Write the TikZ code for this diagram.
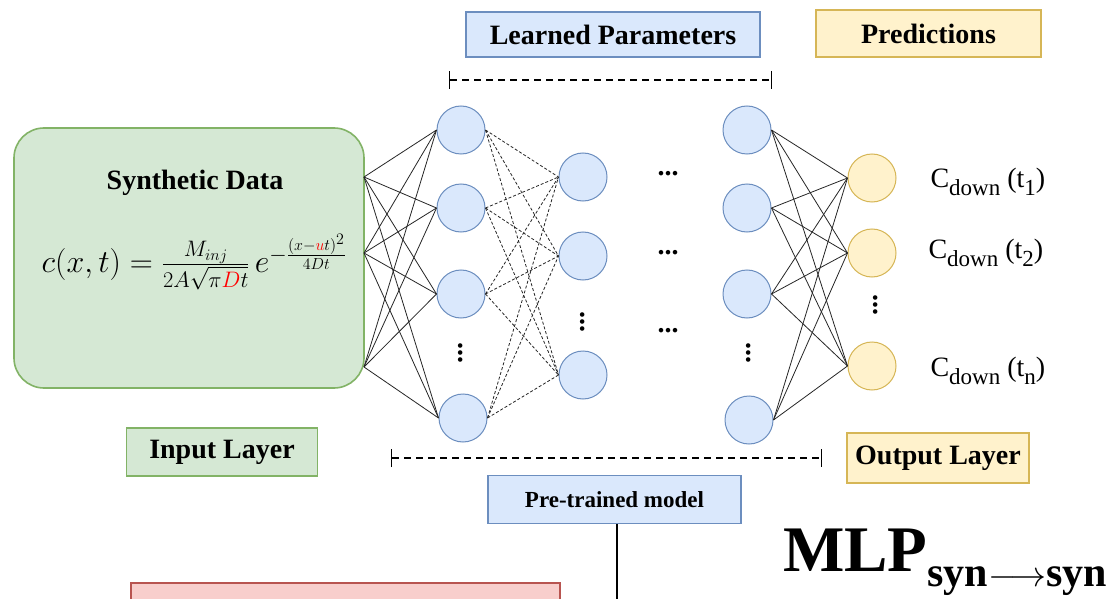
\RequirePackage{fix-cm}
\documentclass[tikz,border=0pt]{standalone}
\usepackage{amsmath}
\usepackage{fontspec}
\setmainfont{Liberation Serif}
\usetikzlibrary{arrows.meta}
\definecolor{bluefill}{HTML}{DAE8FC}
\definecolor{blueline}{HTML}{6C8EBF}
\definecolor{greenfill}{HTML}{D5E8D4}
\definecolor{greenline}{HTML}{82B366}
\definecolor{yellowfill}{HTML}{FFF2CC}
\definecolor{yellowline}{HTML}{D6B656}
\definecolor{redfill}{HTML}{F8CECC}
\definecolor{redline}{HTML}{B85450}
\newcommand{\lowtext}[1]{\raisebox{-0.3em}{\fontsize{23}{24}\selectfont #1}}

\begin{document}
\begin{tikzpicture}[x=1pt,y=-1pt,
  neuron/.style={draw=blueline,fill=bluefill,circle,minimum size=48pt,inner sep=0pt,line width=1pt},
  outneuron/.style={neuron,draw=yellowline,fill=yellowfill},
  tag/.style={draw=#1line,fill=#1fill,line width=1.6pt,inner sep=0pt,
    font=\fontsize{28}{30}\selectfont\bfseries},
  link/.style={black!85,line width=0.8pt},
  dots/.style={font=\fontsize{28}{30}\selectfont\bfseries},
  span/.style={line width=1.4pt,dash pattern=on 7pt off 5pt,{Bar[width=18pt]}-{Bar[width=18pt]}}]
  \clip (0,0) rectangle (1114,599);
  \fill[white] (0,0) rectangle (1114,599);

  % headers
  \node[tag=blue,minimum width=294pt,minimum height=45pt] (learned) at (613,34.5) {Learned Parameters};
  \node[tag=yellow,minimum width=225pt,minimum height=47pt] (pred) at (928.5,33.5) {Predictions};
  \node[tag=green,minimum width=191pt,minimum height=48pt] (inlayer) at (222,452) {Input Layer};
  \node[tag=yellow,minimum width=182pt,minimum height=50pt] (outlayer) at (938,458) {Output Layer};
  \node[tag=blue,minimum width=253pt,minimum height=48pt,font=\fontsize{23}{25}\selectfont\bfseries] (pre) at (614.5,499.5) {Pre-trained model};

  % input box
  \node[draw=greenline,fill=greenfill,line width=1.6pt,rounded corners=30pt,
    minimum width=350pt,minimum height=260pt] (synth) at (189,258) {};
  \node[font=\fontsize{28}{30}\selectfont\bfseries] (synthtitle) at (195,183) {Synthetic Data};
  \node[font=\fontsize{32}{36}\selectfont] (formula) at (194,262)
    {$c(x,t) = \frac{M_{inj}}{2A\sqrt{\pi{\color{red}D}t}}\,e^{-\frac{(x-{\color{red}u}t)^2}{4Dt}}$};

  % brackets
  \coordinate (topl) at (449,80);   \coordinate (topr) at (772,80);
  \coordinate (botl) at (391,458);  \coordinate (botr) at (822,458);
  \draw[span] (topl) -- (topr);
  \draw[span] (botl) -- (botr);

  % layers
  \coordinate (src1) at (364,177);
  \coordinate (src2) at (364,253);
  \coordinate (src3) at (364,367);
  \node[neuron] (a1) at (461,130) {};
  \node[neuron] (a2) at (461,208) {};
  \node[neuron] (a3) at (461,294) {};
  \node[neuron] (a4) at (463,418) {};
  \node[neuron] (b1) at (583,177) {};
  \node[neuron] (b2) at (583,256) {};
  \node[neuron] (b3) at (583,375) {};
  \node[neuron] (c1) at (747,130) {};
  \node[neuron] (c2) at (747,208) {};
  \node[neuron] (c3) at (747,294) {};
  \node[neuron] (c4) at (749,420) {};
  \node[outneuron] (o1) at (872,178) {};
  \node[outneuron] (o2) at (872,253) {};
  \node[outneuron] (o3) at (872,366) {};

  \foreach \i in {1,2,3}{%
    \foreach \j in {1,...,4}{%
      \draw[link] (src\i) -- (a\j.west);
      \draw[link,dash pattern=on 3pt off 2pt] (a\j.east) -- (b\i.west);
      \draw[link] (c\j.east) -- (o\i.west);
    }
  }

  % dots
  \node[dots,rotate=90] (adots) at (461,353) {...};
  \node[dots,rotate=90] (bdots) at (583,322) {...};
  \node[dots,rotate=90] (cdots) at (749,353) {...};
  \node[dots,rotate=90] (odots) at (876,305) {...};
  \node[dots] (mid1) at (668,174) {...};
  \node[dots] (mid2) at (668,253) {...};
  \node[dots] (mid3) at (668,331) {...};

  % outputs
  \node[anchor=west,font=\fontsize{28}{30}\selectfont] (t1) at (927,182) {C\lowtext{down} (t\lowtext{1})};
  \node[anchor=west,font=\fontsize{28}{30}\selectfont] (t2) at (925,253) {C\lowtext{down} (t\lowtext{2})};
  \node[anchor=west,font=\fontsize{28}{30}\selectfont] (tn) at (927,371) {C\lowtext{down} (t\lowtext{n})};

  % bottom
  \coordinate (stem) at (617,599);
  \draw[line width=1.2pt] (pre.south -| stem) -- (stem);
  \node[draw=redline,fill=redfill,line width=1.6pt,minimum width=429pt,minimum height=60pt,
    anchor=north west] (next) at (130,582) {};
  \node[anchor=base west,inner sep=0pt,font=\fontsize{65}{70}\selectfont\bfseries] (mlp) at (783,571)
    {MLP\raisebox{-15pt}{\fontsize{42}{44}\selectfont syn{\fontsize{36}{38}\selectfont$\longrightarrow$}syn}};
\end{tikzpicture}
\end{document}
